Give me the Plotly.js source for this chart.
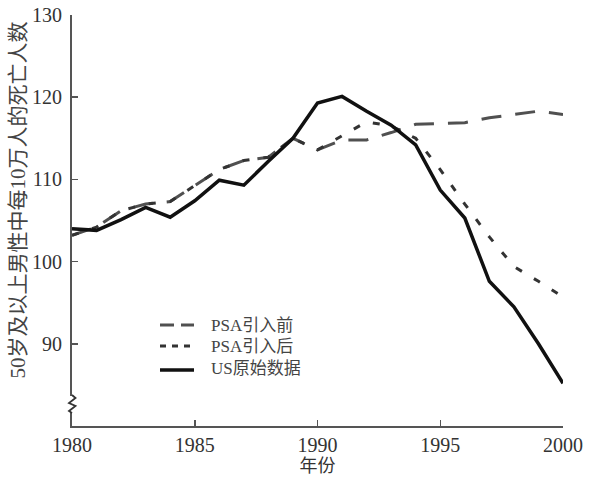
<!DOCTYPE html>
<html>
<head>
<meta charset="utf-8">
<script src="https://cdn.plot.ly/plotly-3.0.1.min.js"></script>
<style>html,body{margin:0;padding:0;background:#fff;}#chart{width:591px;height:479px;}</style>
</head>
<body>
<div id="chart"></div>
<script>
const years = [1980,1981,1982,1983,1984,1985,1986,1987,1988,1989,1990,1991,1992,1993,1994,1995,1996,1997,1998,1999,2000];
const psaBefore = [103.2,104.2,106.2,107.0,107.3,109.2,111.2,112.3,112.7,115.0,113.6,114.8,114.8,115.7,116.7,116.8,116.9,117.5,117.9,118.3,117.9];
const psaAfter  = [103.2,104.2,106.2,107.0,107.3,109.2,111.2,112.3,112.7,115.0,113.6,115.3,117.0,116.5,115.0,111.2,107.0,103.0,99.4,97.6,95.7];
const usData    = [104.0,103.8,105.1,106.6,105.4,107.4,109.9,109.3,112.2,115.0,119.3,120.1,118.3,116.6,114.2,108.7,105.3,97.6,94.5,90.0,85.2];
const seriesNames = ['PSA引入前','PSA引入后','US原始数据'];
const xTicks = [1980,1985,1990,1995,2000];
const yTicks = [90,100,110,120,130];
const xTitle = '年份';
const yTitle = '50岁及以上男性中每10万人的死亡人数';

const W = 591, H = 479;
const M = {l:72, r:28, t:15, b:53};
const pw = W - M.l - M.r, ph = H - M.t - M.b;
const px = v => (v - M.l) / pw;
const py = v => (H - M.b - v) / ph;

const fontFam = '"Liberation Serif", "Times New Roman", "Noto Sans CJK SC", serif';

const styles = [
  {color: '#505050', width: 3, dash: '20px,14px', legendDash: '14px,7px'},
  {color: '#333333', width: 3, dash: '7px,14px', legendDash: '6px,6px'},
  {color: '#111111', width: 3.5, dash: 'solid', legendDash: 'solid'}
];
const seriesData = [psaBefore, psaAfter, usData];

const traces = seriesData.map((ys, i) => ({
  x: years, y: ys, name: seriesNames[i], mode: 'lines', showlegend: false,
  line: {color: styles[i].color, width: styles[i].width, dash: styles[i].dash}
}));

// Hand-placed legend (samples + labels)
const legendRows = [325, 346, 368];
const legendShapes = styles.map((s, i) => ({
  type: 'line', xref: 'paper', yref: 'paper',
  x0: px(160), x1: px(194), y0: py(legendRows[i] + (i === 2 ? 2 : 0)), y1: py(legendRows[i] + (i === 2 ? 2 : 0)),
  line: {color: s.color, width: s.width, dash: s.legendDash}, layer: 'above'
}));
const legendTexts = seriesNames.map((n, i) => ({
  text: n, showarrow: false, xref: 'paper', yref: 'paper',
  x: px(209), y: py(legendRows[i]), xanchor: 'left', yanchor: 'middle',
  font: {family: fontFam, size: 17, color: '#444'}
}));

const zig = `M${px(72)},${py(395)} L${px(75.5)},${py(398)} L${px(69)},${py(403)} L${px(75.5)},${py(406)} L${px(69)},${py(411)} L${px(72)},${py(413)}`;

const layout = {
  width: W, height: H,
  margin: M,
  paper_bgcolor: '#fff', plot_bgcolor: '#fff',
  showlegend: false,
  xaxis: {
    range: [1980, 2000], tickvals: xTicks, ticktext: xTicks.map(String),
    ticks: 'inside', ticklen: 6, tickwidth: 1.5, tickcolor: '#555',
    showline: true, linecolor: '#555', linewidth: 2,
    showgrid: false, zeroline: false,
    tickfont: {family: fontFam, size: 20, color: '#333'},
    title: {text: xTitle, font: {family: fontFam, size: 18, color: '#333'}, standoff: 2},
    automargin: false
  },
  yaxis: {
    range: [80, 130], tickvals: yTicks, ticktext: yTicks.map(String),
    ticks: 'inside', ticklen: 6, tickwidth: 1.5, tickcolor: '#555',
    showline: true, linecolor: '#555', linewidth: 2,
    showgrid: false, zeroline: false,
    tickfont: {family: fontFam, size: 20, color: '#333'},
    ticklabelstandoff: 4,
    automargin: false
  },
  annotations: [{
    text: yTitle, textangle: -90, showarrow: false,
    xref: 'paper', yref: 'paper', x: px(17.5), y: py(200),
    xanchor: 'center', yanchor: 'middle',
    font: {family: fontFam, size: 21, color: '#444'}
  }].concat(legendTexts),
  shapes: [
    {type: 'rect', xref: 'paper', yref: 'paper', x0: px(68), x1: px(76), y0: py(412), y1: py(396),
     fillcolor: '#fff', line: {width: 0}, layer: 'above'},
    {type: 'path', xref: 'paper', yref: 'paper', path: zig, line: {color: '#333', width: 1.8}, layer: 'above'}
  ].concat(legendShapes)
};

Plotly.newPlot('chart', traces, layout, {displayModeBar: false, staticPlot: true});
</script>
</body>
</html>
